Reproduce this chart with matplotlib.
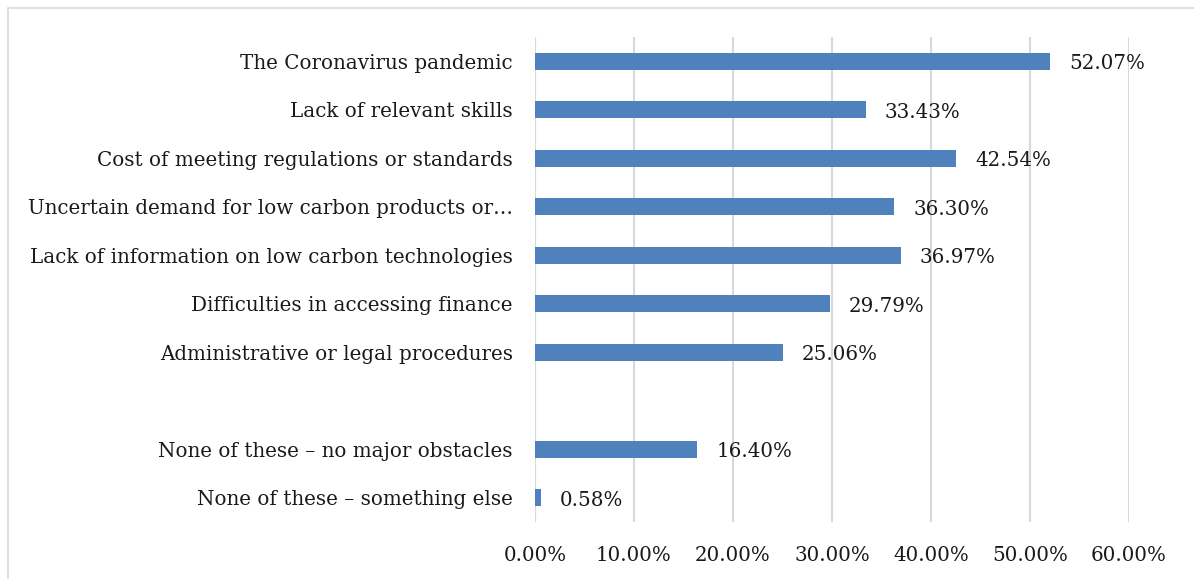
import matplotlib
matplotlib.use("Agg")
import matplotlib.pyplot as plt
from matplotlib.patches import Rectangle

categories = [
    "The Coronavirus pandemic",
    "Lack of relevant skills",
    "Cost of meeting regulations or standards",
    "Uncertain demand for low carbon products or\u2026",
    "Lack of information on low carbon technologies",
    "Difficulties in accessing finance",
    "Administrative or legal procedures",
    "",
    "None of these \u2013 no major obstacles",
    "None of these \u2013 something else",
]
values = [52.07, 33.43, 42.54, 36.30, 36.97, 29.79, 25.06, None, 16.40, 0.58]
xticks = [0, 10, 20, 30, 40, 50, 60]

plt.rcParams['font.family'] = ['DejaVu Serif']
FS = 14.3
W, H = 1194, 579
fig = plt.figure(figsize=(W / 100, H / 100), dpi=100)
ax = fig.add_axes([535 / W, 1 - 522 / H, (1129 - 535) / W, (522 - 37) / H])

ypos = list(range(len(categories)))
for y, v in zip(ypos, values):
    if v is None:
        continue
    ax.barh(y, v, height=0.36, color="#4F81BD", zorder=3)
    ax.text(v + 1.9, y + 0.05, f"{v:.2f}%", va="center", ha="left",
            fontsize=FS, color="#1a1a1a")

ax.set_ylim(len(categories) - 0.5, -0.5)
ax.set_xlim(0, 60)
ax.set_yticks(ypos)
ax.set_yticklabels(categories, fontsize=FS, color="#1a1a1a")
ax.set_xticks(xticks)
ax.set_xticklabels([f"{t:.2f}%" for t in xticks], fontsize=FS, color="#1a1a1a")
ax.tick_params(axis="both", length=0)
ax.tick_params(axis="y", pad=16)
ax.tick_params(axis="x", pad=17)
ax.grid(axis="x", color="#D9D9D9", linewidth=1.5, zorder=0)
for s in ax.spines.values():
    s.set_visible(False)
ax.axvline(0, color="#D9D9D9", linewidth=1.5, zorder=1)

fig.patches.append(Rectangle((8 / W, -0.1), 1.2, 1.1 - 7.5 / H, transform=fig.transFigure,
                             fill=False, edgecolor="#D9D9D9", linewidth=1.2))
fig.savefig("out.png", dpi=100)
